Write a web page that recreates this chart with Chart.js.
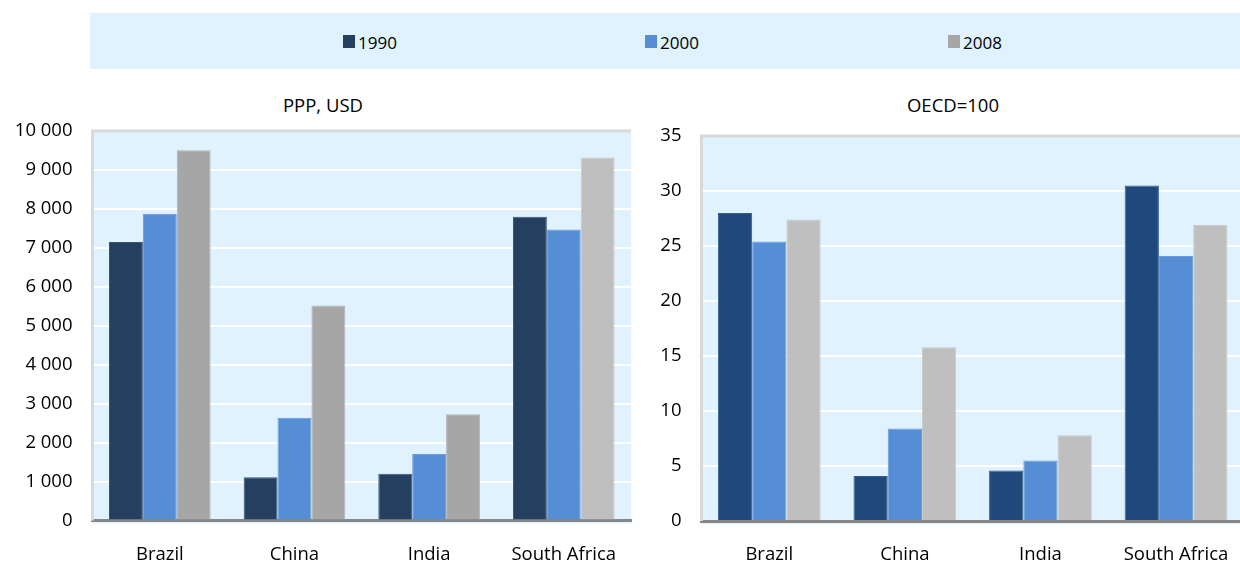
<!DOCTYPE html>
<html>
<head>
<meta charset="utf-8">
<script src="https://cdn.jsdelivr.net/npm/chart.js@4"></script>
<style>
  html, body { margin: 0; padding: 0; width: 1240px; height: 563px; overflow: hidden; background: #ffffff; }
  body { position: relative; font-family: "Open Sans", "Noto Sans", sans-serif; color: #000; }
  #legend { position: absolute; left: 90px; top: 13px; width: 1150px; height: 56px; background: #dff2fd; }
  .swatch { position: absolute; top: 22px; width: 12px; height: 13px; }
  .lbl { position: absolute; top: 28.5px; transform: translateY(-50%); font-size: 17px; line-height: 1; }
  .title { position: absolute; top: 105px; transform: translate(-50%, -50%); font-size: 18.5px; white-space: nowrap; line-height: 1; }
  .wrap { position: absolute; top: 100px; height: 463px; }
</style>
</head>
<body>
<div id="legend"></div>
<div class="title" style="left:323px">PPP, USD</div>
<div class="title" style="left:953px">OECD=100</div>
<div class="wrap" style="left:0px;width:640px"><canvas id="pppChart"></canvas></div>
<div class="wrap" style="left:640px;width:612px"><canvas id="oecdChart"></canvas></div>

<script>
// Countries and years
const countries = ['Brazil', 'China', 'India', 'South Africa'];
const years = ['1990', '2000', '2008'];

// GDP per capita, PPP, USD
const ppp1990 = [7150, 1110, 1200, 7800];
const ppp2000 = [7880, 2640, 1710, 7470];
const ppp2008 = [9510, 5520, 2730, 9320];

// GDP per capita relative to the OECD (OECD = 100)
const oecd1990 = [28.0, 4.1, 4.6, 30.5];
const oecd2000 = [25.4, 8.4, 5.5, 24.1];
const oecd2008 = [27.4, 15.8, 7.8, 26.9];

// Axis ranges
const pppMax = 10000, pppStep = 1000;
const oecdMax = 35, oecdStep = 5;

// Styling
const FONT = '"Open Sans", "Noto Sans", sans-serif';
const PLOT_BG = '#dff2fd';
const FRAME = '#d9d9d9';
const AXIS = '#868686';
const legendColors = ['#243f60', '#558ed5', '#a6a6a6'];

// Legend strip spanning both panels
const legendX = [343, 645, 948];
const legend = document.getElementById('legend');
years.forEach((y, i) => {
  const sw = document.createElement('div');
  sw.className = 'swatch';
  sw.style.left = (legendX[i] - 90) + 'px';
  sw.style.background = legendColors[i];
  legend.appendChild(sw);
  const t = document.createElement('div');
  t.className = 'lbl';
  t.style.left = (legendX[i] - 90 + 15) + 'px';
  t.textContent = y;
  legend.appendChild(t);
});

function spaced(v) {
  return String(v).replace(/\B(?=(\d{3})+(?!\d))/g, ' ');
}

// Plot background and grey frame (top and left edges)
const framePlugin = {
  id: 'frame',
  beforeDraw(chart) {
    const { ctx, chartArea: a } = chart;
    ctx.save();
    ctx.fillStyle = PLOT_BG;
    ctx.fillRect(a.left, a.top, a.right - a.left, a.bottom - a.top + 3);
    ctx.restore();
  },
  beforeDatasetsDraw(chart) {
    const { ctx, chartArea: a } = chart;
    ctx.save();
    ctx.strokeStyle = FRAME;
    ctx.lineWidth = 3;
    ctx.beginPath();
    ctx.moveTo(a.left, a.bottom);
    ctx.lineTo(a.left, a.top);
    ctx.lineTo(a.right, a.top);
    ctx.stroke();
    ctx.restore();
  }
};

function makeChart(id, cfg) {
  const ds = (data, bg, border) => ({
    data,
    backgroundColor: bg,
    borderColor: border,
    borderWidth: 1,
    borderSkipped: 'bottom',
    barPercentage: 1,
    categoryPercentage: cfg.catPct
  });
  return new Chart(document.getElementById(id), {
    type: 'bar',
    data: {
      labels: countries,
      datasets: [
        Object.assign(ds(cfg.series[0], cfg.colors[0], cfg.borders[0]), { label: years[0] }),
        Object.assign(ds(cfg.series[1], cfg.colors[1], cfg.borders[1]), { label: years[1] }),
        Object.assign(ds(cfg.series[2], cfg.colors[2], cfg.borders[2]), { label: years[2] })
      ]
    },
    options: {
      responsive: true,
      maintainAspectRatio: false,
      animation: false,
      devicePixelRatio: 1,
      layout: { padding: cfg.padding },
      plugins: { legend: { display: false }, title: { display: false }, tooltip: { enabled: false } },
      scales: {
        x: {
          z: 1,
          grid: { display: true, drawOnChartArea: false, drawTicks: false },
          border: { display: true, color: AXIS, width: 3 },
          ticks: { color: '#000', padding: 23, font: { family: FONT, size: 18.5 } },
          afterFit(scale) { scale.height = cfg.xHeight; }
        },
        y: {
          min: 0,
          max: cfg.max,
          grid: { color: '#ffffff', lineWidth: 2, drawTicks: false },
          border: { display: false },
          ticks: {
            stepSize: cfg.step,
            color: '#000',
            padding: 20,
            font: { family: FONT, size: 18.5 },
            callback: v => spaced(v)
          },
          afterFit(scale) { scale.width = cfg.yWidth; }
        }
      }
    },
    plugins: [framePlugin]
  });
}

makeChart('pppChart', {
  series: [ppp1990, ppp2000, ppp2008],
  colors: ['#243f60', '#558ed5', ['#a6a6a6', '#a6a6a6', '#a6a6a6', '#bfbfbf']],
  borders: ['#3a5676', '#6a9cdb', ['#b4b4b4', '#b4b4b4', '#b4b4b4', '#cacaca']],
  max: pppMax,
  step: pppStep,
  catPct: 0.755,
  padding: { top: 31, left: 0, right: 7, bottom: 0 },
  xHeight: 42.5,
  yWidth: 92.5
});

makeChart('oecdChart', {
  series: [oecd1990, oecd2000, oecd2008],
  colors: ['#1f497d', '#558ed5', '#bfbfbf'],
  borders: ['#34608f', '#6a9cdb', '#cacaca'],
  max: oecdMax,
  step: oecdStep,
  catPct: 0.758,
  padding: { top: 36, left: 0, right: 5, bottom: 0 },
  xHeight: 42,
  yWidth: 61.5
});
</script>
</body>
</html>
